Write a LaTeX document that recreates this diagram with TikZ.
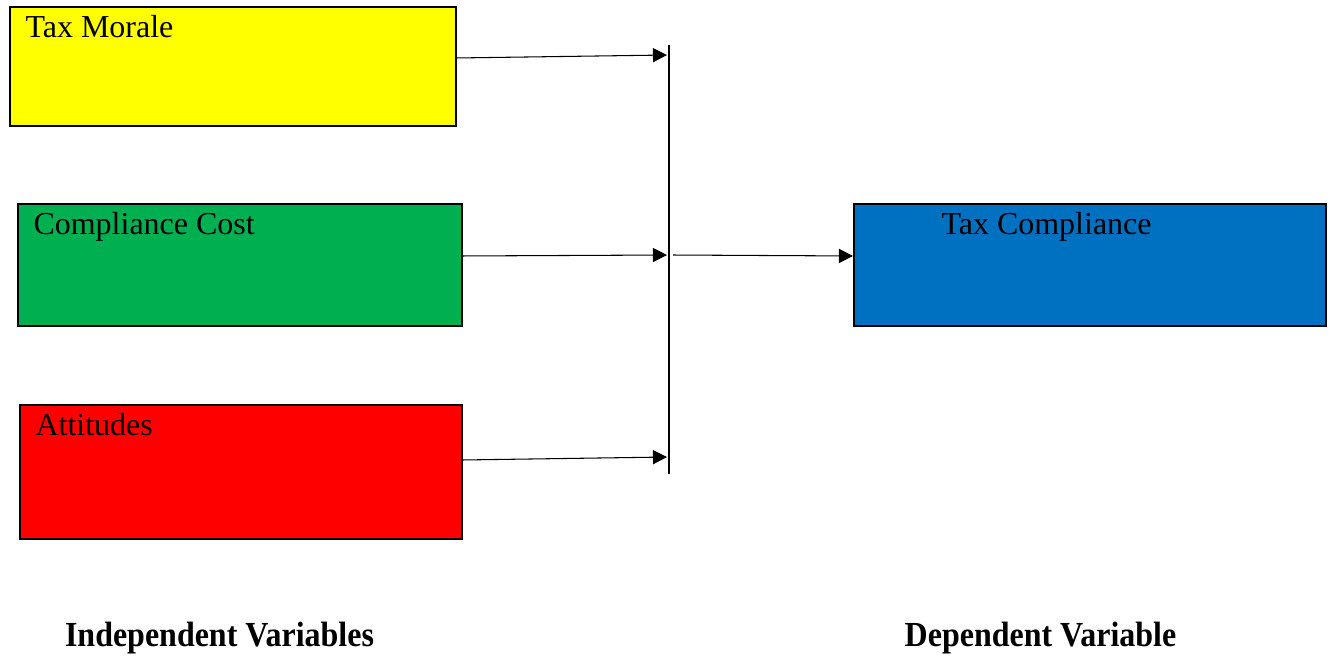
\documentclass[tikz,border=0pt]{standalone}
\usepackage{fontspec}
\setmainfont{Liberation Serif}
\usetikzlibrary{arrows.meta, positioning}
\definecolor{moraleyellow}{HTML}{FFFF00}
\definecolor{costgreen}{HTML}{00B050}
\definecolor{attred}{HTML}{FF0000}
\definecolor{compblue}{HTML}{0070C0}
\tikzset{
	varbox/.style={draw, line width=1.1pt, rectangle, anchor=north west, inner sep=0pt},
	boxtext/.style={anchor=north west, inner sep=0pt, font=\fontsize{18.2}{20}\selectfont},
	footer/.style={inner sep=0pt, anchor=base, yscale=1.1, font=\fontsize{18.2}{20}\selectfont\bfseries}
}

\begin{document}
\begin{tikzpicture}[->,>={Triangle[length=8pt,width=8pt]},line width=0.6pt]
	\useasboundingbox (0,0) rectangle (26.62,-13.12);

	\node[varbox, fill=moraleyellow, minimum width=8.92cm, minimum height=2.38cm] (M) at (0.18,-0.12) {};
	\node[varbox, fill=costgreen, minimum width=8.88cm, minimum height=2.44cm] (C) at (0.34,-4.06) {};
	\node[varbox, fill=attred, minimum width=8.84cm, minimum height=2.68cm] (A) at (0.38,-8.08) {};
	\node[varbox, fill=compblue, minimum width=9.44cm, minimum height=2.44cm] (T) at (17.06,-4.06) {};

	\node[boxtext] (Mt) at (0.50,-0.30) {Tax Morale};
	\node[boxtext] (Ct) at (0.66,-4.24) {Compliance Cost};
	\node[boxtext] (At) at (0.70,-8.26) {Attitudes};
	\node[boxtext] (Tt) at (18.82,-4.24) {Tax Compliance};

	% the joining bar
	\coordinate (bartop) at (13.38,-0.90);
	\coordinate (barbot) at (13.38,-9.48);
	\draw[-] (bartop) -- (barbot);

	\coordinate (inM) at (13.34,-1.10);
	\coordinate (inC) at (13.34,-5.10);
	\coordinate (inA) at (13.34,-9.14);
	\coordinate (out) at (13.46,-5.10);

	\draw ([yshift=0.17cm]M.east) -- (inM);
	\draw ([yshift=0.18cm]C.east) -- (inC);
	\draw ([yshift=0.24cm]A.east) -- (inA);
	\draw (out) -- ([yshift=0.18cm]T.west);

	\node[footer] (indep) at (4.39,-12.92) {Independent Variables};
	\node[footer] (dep) at (20.81,-12.92) {Dependent Variable};
\end{tikzpicture}
\end{document}
